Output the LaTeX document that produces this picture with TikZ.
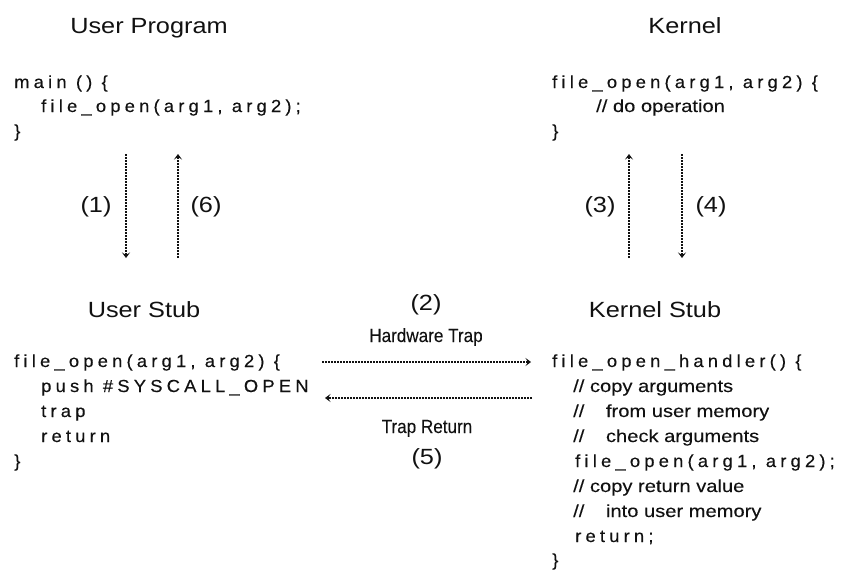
\documentclass[tikz,border=0pt]{standalone}
\usepackage{fontspec}
\setmainfont{Liberation Sans}[FakeStretch=1.15]
\newfontfamily\codefont{Liberation Sans}[FakeStretch=1.05,LetterSpace=24,FakeBold=0.3]
\newfontfamily\cmtfont{Liberation Sans}[FakeStretch=1.15,FakeBold=0.15]
\newfontfamily\narrowfont{Liberation Sans}[FakeStretch=0.9,FakeBold=0.15]
\usetikzlibrary{arrows.meta}
\definecolor{ink}{HTML}{111111}
\tikzset{
  titletext/.style={font=\fontsize{22}{26}\selectfont, anchor=base, inner sep=0pt, text=ink},
  numlabel/.style={font=\fontsize{22}{26}\selectfont, anchor=center, inner sep=0pt, text=ink},
  codeline/.style={font=\codefont\fontsize{17.5}{25}\selectfont, anchor=base west, inner sep=0pt, text=ink},
  cmtline/.style={font=\cmtfont\fontsize{17.5}{25}\selectfont, anchor=base west, inner sep=0pt, text=ink},
  narrowtext/.style={font=\narrowfont\fontsize{19}{22}\selectfont, anchor=base, inner sep=0pt, text=ink},
  flow/.style={draw=ink, line width=2pt, dash pattern=on 2pt off 1pt,
    -{Stealth[length=5.5pt,width=8pt,inset=2.5pt]}}
}
\begin{document}
\begin{tikzpicture}[x=1pt,y=-1pt]
\useasboundingbox (0,0) rectangle (845,573);
% headings
\node[titletext] (tup) at (149,33) {User Program};
\node[titletext] (tk) at (685,33) {Kernel};
\node[titletext] (tus) at (144,317) {User Stub};
\node[titletext] (tks) at (655,317) {Kernel Stub};
% user program
\node[codeline] (up1) at (14,88) {main () \{};
\node[codeline] (up2) at (41,112) {file\_open(arg1, arg2);};
\node[codeline] (up3) at (14,137) {\}};
% kernel
\node[codeline] (k1) at (552,88) {file\_open(arg1, arg2) \{};
\node[cmtline] (k2) at (596,112) {// do operation};
\node[codeline] (k3) at (552,137) {\}};
% user stub
\node[codeline] (us1) at (14,367) {file\_open(arg1, arg2) \{};
\node[codeline] (us2) at (41,392) {push \#SYSCALL\_OPEN};
\node[codeline] (us3) at (41,417) {trap};
\node[codeline] (us4) at (41,442) {return};
\node[codeline] (us5) at (14,467) {\}};
% kernel stub
\node[codeline] (ks1) at (552,367) {file\_open\_handler() \{};
\node[cmtline] (ks2) at (573,392) {// copy arguments};
\node[cmtline] (ks3) at (573,417) {//\hspace{16pt} from user memory};
\node[cmtline] (ks4) at (573,442) {//\hspace{16pt} check arguments};
\node[codeline] (ks5) at (575,467) {file\_open(arg1, arg2);};
\node[cmtline] (ks6) at (573,492) {// copy return value};
\node[cmtline] (ks7) at (573,517) {//\hspace{16pt} into user memory};
\node[codeline] (ks8) at (575,542) {return;};
\node[codeline] (ks9) at (552,566) {\}};
% step labels
\node[numlabel] (n1) at (96,207) {(1)};
\node[numlabel] (n6) at (206,207) {(6)};
\node[numlabel] (n3) at (600,207) {(3)};
\node[numlabel] (n4) at (711,207) {(4)};
\node[titletext] (n2) at (426,310) {(2)};
\node[titletext] (n5) at (427,464) {(5)};
\node[narrowtext] (hw) at (426,342) {Hardware Trap};
\node[narrowtext] (tr) at (427,433) {Trap Return};
% connector end points
\coordinate (a1s) at (126,154); \coordinate (a1e) at (126,258);
\coordinate (a6s) at (178,258); \coordinate (a6e) at (178,154);
\coordinate (a3s) at (629,258); \coordinate (a3e) at (629,154);
\coordinate (a4s) at (682,154); \coordinate (a4e) at (682,258);
\coordinate (a2s) at (322,362); \coordinate (a2e) at (531,362);
\coordinate (a5s) at (532,398); \coordinate (a5e) at (325,398);
\draw[flow] (a1s) -- (a1e);
\draw[flow] (a6s) -- (a6e);
\draw[flow] (a3s) -- (a3e);
\draw[flow] (a4s) -- (a4e);
\draw[flow] (a2s) -- (a2e);
\draw[flow] (a5s) -- (a5e);
\end{tikzpicture}
\end{document}
